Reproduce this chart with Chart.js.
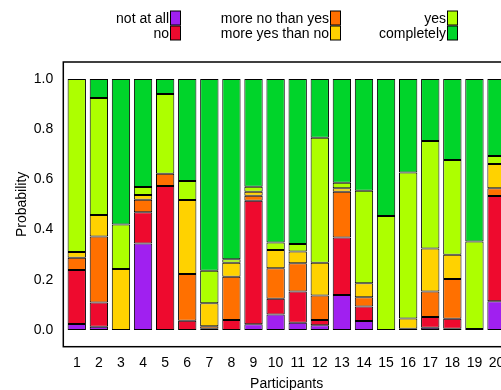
<!DOCTYPE html>
<html>
<head>
<meta charset="utf-8">
<script src="https://cdn.jsdelivr.net/npm/chart.js@4"></script>
<style>
  html, body { margin: 0; padding: 0; background: #fff; overflow: hidden; }
  canvas { display: block; }
</style>
</head>
<body>
<canvas id="chart" width="520" height="390"></canvas>
<script>
const participants = [1, 2, 3, 4, 5, 6, 7, 8, 9, 10, 11, 12, 13, 14, 15, 16, 17, 18, 19, 20];
const yTicks = [0, 0.2, 0.4, 0.6, 0.8, 1.0];

const notAtAll = [0.024, 0.013, 0, 0.345, 0, 0, 0, 0, 0.023, 0.062, 0.029, 0.019, 0.139, 0.036, 0, 0, 0.009, 0.005, 0, 0.114];
const no = [0.215, 0.096, 0, 0.124, 0.574, 0.037, 0.005, 0.04, 0.492, 0.062, 0.124, 0.021, 0.229, 0.057, 0, 0, 0.043, 0.04, 0.004, 0.42];
const moreNoThanYes = [0.049, 0.263, 0, 0.05, 0.048, 0.186, 0.01, 0.172, 0.02, 0.122, 0.113, 0.097, 0.183, 0.037, 0, 0.005, 0.101, 0.158, 0, 0.031];
const moreYesThanNo = [0.023, 0.086, 0.243, 0.019, 0, 0.295, 0.091, 0.056, 0.016, 0.073, 0.047, 0.131, 0.014, 0.056, 0, 0.041, 0.172, 0.097, 0, 0.096];
const yes = [0.689, 0.466, 0.177, 0.032, 0.318, 0.076, 0.13, 0.014, 0.02, 0.029, 0.03, 0.498, 0.022, 0.369, 0.454, 0.581, 0.428, 0.377, 0.348, 0.032];
const completely = [0, 0.076, 0.58, 0.43, 0.06, 0.406, 0.764, 0.718, 0.429, 0.652, 0.657, 0.234, 0.413, 0.445, 0.546, 0.373, 0.247, 0.323, 0.648, 0.307];

const seriesNames = ["not at all", "no", "more no than yes", "more yes than no", "yes", "completely"];
const seriesValues = [notAtAll, no, moreNoThanYes, moreYesThanNo, yes, completely];
const seriesColors = ["#A020F0", "#EE0A2E", "#FF7000", "#FFD200", "#ADFF00", "#00D42A"];

const FONT = "'Liberation Sans', Arial, Helvetica, sans-serif";

// legend: 3 columns, text right aligned, box on the right
const legendPlugin = {
  id: "rLegend",
  afterDraw(chart) {
    let ctx = chart.ctx;
    let colRight = [169, 329, 446];
    let rowTop = [11, 26];
    ctx.save();
    ctx.font = "14px " + FONT;
    ctx.textAlign = "right";
    ctx.textBaseline = "middle";
    seriesNames.forEach((name, i) => {
      let col = Math.floor(i / 2);
      let row = i % 2;
      let x = colRight[col];
      let y = rowTop[row];
      ctx.fillStyle = "#000";
      ctx.fillText(name, x, y + 8);
      ctx.fillStyle = seriesColors[i];
      ctx.fillRect(x + 1.5, y, 10, 14);
      ctx.strokeStyle = "#000";
      ctx.lineWidth = 1;
      ctx.strokeRect(x + 1.5, y, 10, 14);
    });
    ctx.restore();
  },
};

// box around the plot region
const framePlugin = {
  id: "frame",
  afterDatasetsDraw(chart) {
    let a = chart.chartArea;
    let ctx = chart.ctx;
    ctx.save();
    ctx.strokeStyle = "#000";
    ctx.lineWidth = 1.5;
    ctx.strokeRect(a.left, a.top, a.right - a.left, a.bottom - a.top);
    ctx.restore();
  },
};

const datasets = seriesNames.map((name, i) => ({
  label: name,
  data: participants.map((p, j) => ({ x: p, y: seriesValues[i][j] })),
  backgroundColor: seriesColors[i],
  borderColor: "#000",
  borderWidth: 1,
  borderSkipped: false,
  barPercentage: 0.83,
  categoryPercentage: 1,
}));

new Chart(document.getElementById("chart"), {
  type: "bar",
  data: { datasets: datasets },
  plugins: [legendPlugin, framePlugin],
  options: {
    responsive: false,
    animation: false,
    layout: { padding: { left: 0, top: 62, right: 10, bottom: 0 } },
    plugins: {
      legend: { display: false },
      tooltip: { enabled: false },
    },
    scales: {
      x: {
        type: "linear",
        stacked: true,
        offset: false,
        min: 0.39,
        max: 20.61,
        grid: { display: false, drawTicks: false, offset: false },
        border: { display: false },
        afterBuildTicks: (scale) => {
          scale.ticks = participants.map((v) => ({ value: v }));
        },
        afterFit: (scale) => {
          scale.height = 43.3;
        },
        ticks: {
          padding: 8,
          color: "#000",
          font: { family: FONT, size: 14 },
          maxRotation: 0,
          autoSkip: false,
          callback: (v) => String(v),
        },
        title: {
          display: true,
          text: "Participants",
          color: "#000",
          font: { family: FONT, size: 14 },
          padding: { top: 0, bottom: -3 },
        },
      },
      y: {
        stacked: true,
        min: -0.0667,
        max: 1.0677,
        grid: { display: false, drawTicks: false },
        border: { display: false },
        afterBuildTicks: (scale) => {
          scale.ticks = yTicks.map((v) => ({ value: v }));
        },
        afterFit: (scale) => {
          scale.width = 63.3;
        },
        ticks: {
          padding: 10,
          color: "#000",
          font: { family: FONT, size: 14 },
          callback: (v) => Number(v).toFixed(1),
        },
        title: {
          display: true,
          text: "Probability",
          color: "#000",
          font: { family: FONT, size: 14 },
          padding: { top: 14, bottom: 0 },
        },
      },
    },
  },
});
</script>
</body>
</html>
